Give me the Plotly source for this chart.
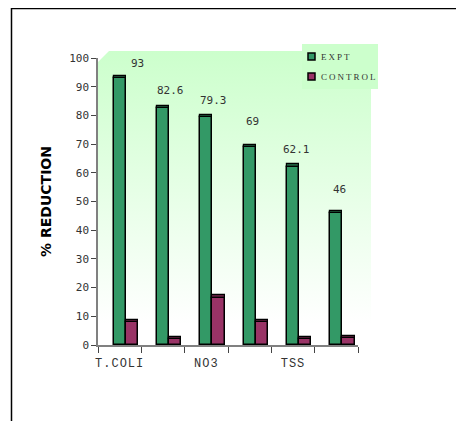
import base64
import plotly.graph_objects as go

categories = ["T.COLI", "", "NO3", "", "TSS", ""]
expt = [93, 82.6, 79.3, 69, 62.1, 46]
control = [8, 2, 16.5, 8, 2, 2.5]
expt_labels = ["93", "82.6", "79.3", "69", "62.1", "46"]
y_ticks = [0, 10, 20, 30, 40, 50, 60, 70, 80, 90, 100]
series_names = ["EXPT", "CONTROL"]

# label placement offsets (pixels) – styling only
label_dx = [18, 7, 7, 3, 3, 3]
label_dy = [15, 17, 17, 25, 17, 23]

GREEN = "#339966"
MAROON = "#993366"
series_colors = [GREEN, MAROON]

xs = list(range(len(expt)))

fig = go.Figure()
fig.add_trace(go.Bar(x=xs, y=expt, name=series_names[0], width=0.28, offset=-0.14,
                     showlegend=False,
                     marker=dict(color=GREEN, line=dict(color="black", width=1.5))))
fig.add_trace(go.Bar(x=xs, y=control, name=series_names[1], width=0.28, offset=0.14,
                     showlegend=False,
                     marker=dict(color=MAROON, line=dict(color="black", width=1.5))))
# 3D-looking top caps derived from the data
fig.add_trace(go.Bar(x=xs, y=[0.8] * len(expt), base=expt, width=0.28, offset=-0.14,
                     marker=dict(color="#1f5c3d", line=dict(color="black", width=1.2)),
                     showlegend=False, hoverinfo="skip"))
fig.add_trace(go.Bar(x=xs, y=[0.8] * len(control), base=control, width=0.28, offset=0.14,
                     marker=dict(color="#5c1f3d", line=dict(color="black", width=1.2)),
                     showlegend=False, hoverinfo="skip"))
# invisible trace to carry the category label axis
fig.add_trace(go.Scatter(x=xs, y=[None] * len(xs), xaxis="x2", showlegend=False,
                         hoverinfo="skip", mode="markers"))

for i, (v, t) in enumerate(zip(expt, expt_labels)):
    fig.add_annotation(x=i, y=v, text=t, showarrow=False,
                       xshift=label_dx[i], yshift=label_dy[i],
                       font=dict(family="DejaVu Sans Mono", size=11, color="#333333"))

svg = ('<svg xmlns="http://www.w3.org/2000/svg" width="273" height="294" viewBox="0 0 273 294" '
       'preserveAspectRatio="none"><defs><linearGradient id="g" x1="0" y1="0" x2="0" y2="1">'
       '<stop offset="0" stop-color="#ccffcc"/><stop offset="0.93" stop-color="#ffffff"/>'
       '</linearGradient></defs><polygon points="0,11 11,0 273,0 273,294 0,294" fill="url(#g)"/></svg>')
src = "data:image/svg+xml;base64," + base64.b64encode(svg.encode()).decode()

shapes = [
    # outer frame
    dict(type="rect", xref="paper", yref="paper", x0=-0.3327, x1=1.6,
         y0=-0.5, y1=1.1725, line=dict(color="black", width=1.5),
         fillcolor="rgba(0,0,0,0)", layer="below"),
    # legend box
    dict(type="rect", xref="paper", yref="paper", x0=0.7846, x1=1.0769,
         y0=0.892, y1=1.0488, line=dict(width=0), fillcolor="#ccffcc", layer="above"),
]
# legend swatches and texts
sw_top = [1.0174, 0.9477]
for nm, col, top in zip(series_names, series_colors, sw_top):
    shapes.append(dict(type="rect", xref="paper", yref="paper", x0=0.8077, x1=0.8346,
                       y0=top - 0.0244, y1=top, fillcolor=col,
                       line=dict(color="black", width=1.5), layer="above"))
    fig.add_annotation(xref="paper", yref="paper", x=0.85, y=top - 0.0122,
                       xanchor="left", yanchor="middle", showarrow=False,
                       text=f'<span style="letter-spacing:2px">{nm}</span>',
                       font=dict(family="Liberation Serif", size=9, color="#333333"))

fig.update_layout(
    width=464, height=421,
    margin=dict(l=90, r=114, t=50, b=84),
    paper_bgcolor="white", plot_bgcolor="rgba(0,0,0,0)",
    barmode="overlay", bargap=0,
    showlegend=False,
    images=[dict(source=src, xref="paper", yref="paper", x=0, y=1.024,
                 sizex=1.05, sizey=1.024, xanchor="left", yanchor="top",
                 sizing="stretch", layer="below")],
    xaxis=dict(range=[-0.5, 5.5], tickvals=[i - 0.5 for i in range(7)],
               ticktext=[""] * 7, ticks="outside", ticklen=6, tickcolor="#444444",
               showline=True, linecolor="#808080", linewidth=1.5,
               showgrid=False, zeroline=False, fixedrange=True),
    xaxis2=dict(overlaying="x", side="bottom", range=[-0.5, 5.5], tickvals=xs,
                ticktext=[f'<span style="letter-spacing:1px">{c}</span>' if c else ""
                          for c in categories],
                ticks="outside", ticklen=7,
                tickcolor="rgba(0,0,0,0)", showline=False, showgrid=False,
                zeroline=False,
                tickfont=dict(family="Liberation Mono", size=12, color="#333333")),
    yaxis=dict(range=[0, 100], tickvals=y_ticks, ticks="outside", ticklen=5,
               tickcolor="#444444", showline=True, linecolor="#808080", linewidth=1.5,
               showgrid=False, zeroline=False,
               tickfont=dict(family="DejaVu Sans Mono", size=11, color="#333333"),
               title=dict(text="% REDUCTION", standoff=14,
                          font=dict(family="DejaVu Sans", size=14, color="black",
                                    weight="bold"))),
    shapes=shapes,
)

fig.write_html("out.html")
